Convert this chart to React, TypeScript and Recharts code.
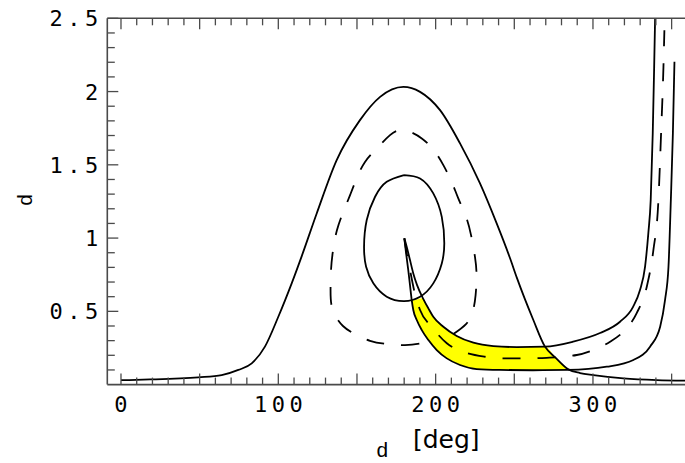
import React from "react";
import { ComposedChart, Line, Area, XAxis, YAxis } from "recharts";

// ---------- ticks ----------
const xTicks = [0, 10, 20, 30, 40, 50, 60, 70, 80, 90, 100, 110, 120, 130, 140, 150, 160, 170, 180, 190, 200, 210, 220, 230, 240, 250, 260, 270, 280, 290, 300, 310, 320, 330, 340, 350];
const xMajorTicks = [0, 50, 100, 150, 200, 250, 300, 350];
const xLabelTicks = [0, 100, 200, 300];
const xTickLabels = ["0", "100", "200", "300"];

const yTicks = [0.1, 0.2, 0.3, 0.4, 0.5, 0.6, 0.7, 0.8, 0.9, 1, 1.1, 1.2, 1.3, 1.4, 1.5, 1.6, 1.7, 1.8, 1.9, 2, 2.1, 2.2, 2.3, 2.4, 2.5];
const yMajorTicks = [0.5, 1, 1.5, 2, 2.5];
const yTickLabels = ["0.5", "1", "1.5", "2", "2.5"];

// ---------- series (x in deg, y) ----------
const outerBell: [number, number][] = [
  [0, 0.03], [18.4, 0.035], [49.1, 0.05], [64, 0.065], [74.6, 0.1], [83.1, 0.145], [91.5, 0.259],
  [100, 0.463], [108.5, 0.691], [114.9, 0.877], [124.4, 1.168], [137.1, 1.532], [151.9, 1.805],
  [164.7, 1.964], [179.5, 2.032], [190.1, 1.998], [202.8, 1.873], [215.5, 1.646], [228.2, 1.373],
  [238.8, 1.1], [247.3, 0.862], [251.6, 0.73], [262.1, 0.441], [269.5, 0.259], [276.5, 0.181],
  [284.4, 0.104], [291.8, 0.079], [300.3, 0.065], [319.3, 0.043], [340.6, 0.031], [358.5, 0.027],
];

const dashedLoop: [number, number][] = [
  [211.5, 0.347], [219.3, 0.413], [223.5, 0.495], [225.4, 0.611], [226.0, 0.748], [225.0, 0.872],
  [222.5, 1.02], [219.3, 1.145], [214.4, 1.271], [210.2, 1.384], [204.9, 1.498], [199.6, 1.589],
  [191.2, 1.68], [179.6, 1.737], [171.0, 1.703], [162.6, 1.612], [155.1, 1.52], [149.8, 1.407],
  [145.6, 1.293], [141.3, 1.179], [137.3, 1.055], [134.8, 0.918], [133.5, 0.782], [133.2, 0.645],
  [133.8, 0.543], [136.7, 0.461], [141.1, 0.4], [147.7, 0.35], [158.3, 0.299], [168.9, 0.277],
  [180.5, 0.27], [191.2, 0.282], [196.0, 0.297],
];

const innerLoop: [number, number][] = [
  [179.9, 1.43], [168.9, 1.384], [161.5, 1.282], [156.2, 1.123], [154.5, 0.941], [155.8, 0.804],
  [160.4, 0.691], [168.9, 0.6], [179.9, 0.57], [190.1, 0.6], [198.5, 0.691], [203.9, 0.827],
  [205.5, 0.964], [203.9, 1.145], [198.5, 1.305], [190.1, 1.407], [179.9, 1.43],
];

const bandUpper: [number, number][] = [
  [180.1, 0.998], [181.6, 0.941], [183.7, 0.85], [185.8, 0.759], [188.2, 0.679], [192.2, 0.584],
  [195.4, 0.52], [198.5, 0.463], [204.9, 0.395], [213.4, 0.332], [224.0, 0.286], [236.7, 0.263],
  [251.6, 0.256], [269.5, 0.259], [287.3, 0.293], [304.5, 0.352], [317.2, 0.429], [325.5, 0.531],
  [329.9, 0.645], [333.1, 0.804], [335.2, 1.034], [336.7, 1.259], [338.0, 1.716], [338.9, 2.168],
  [339.5, 2.5],
];

const bandMiddle: [number, number][] = [
  [180.1, 0.998], [181.8, 0.884], [183.7, 0.782], [186.3, 0.645], [190.1, 0.509], [197.5, 0.395],
  [207.1, 0.282], [217.6, 0.224], [231.4, 0.19], [243.0, 0.179], [257.9, 0.179], [270.6, 0.183],
  [289.7, 0.202], [300.1, 0.236], [310.9, 0.293], [319.3, 0.361], [327.8, 0.488], [334.2, 0.668],
  [338.4, 0.918], [341.6, 1.259], [343.3, 1.716], [344.8, 2.168], [345.4, 2.419],
];

const bandLower: [number, number][] = [
  [180.1, 0.998], [181.2, 0.898], [182.6, 0.782], [183.7, 0.679], [184.8, 0.577], [185.8, 0.509],
  [188.0, 0.441], [191.2, 0.372], [195.4, 0.304], [200.7, 0.236], [207.1, 0.179], [215.5, 0.134],
  [226.1, 0.106], [240.9, 0.1], [261.9, 0.098], [284.2, 0.1], [308.8, 0.122], [325.7, 0.168],
  [336.3, 0.259], [342.7, 0.395], [345.8, 0.577], [348.0, 0.804], [349.5, 1.259], [350.8, 1.716],
  [351.8, 2.203],
];

// yellow region: x, lower edge, upper edge
const fillX = [184.8, 185.8, 188.0, 191.2, 192.2, 195.4, 198.5, 200.7, 204.9, 207.1, 213.4, 215.5, 224.0, 226.1, 236.7, 240.9, 251.6, 261.9, 269.5, 276.5, 284.2, 285.2];
const fillLow = [0.577, 0.509, 0.441, 0.372, 0.35, 0.304, 0.264, 0.236, 0.199, 0.179, 0.145, 0.134, 0.112, 0.106, 0.102, 0.1, 0.099, 0.098, 0.099, 0.1, 0.1, 0.1];
const fillHigh = [0.578, 0.576, 0.58, 0.59, 0.584, 0.52, 0.463, 0.44, 0.395, 0.379, 0.332, 0.323, 0.286, 0.282, 0.263, 0.261, 0.256, 0.257, 0.259, 0.181, 0.105, 0.1];

const toPts = (arr: [number, number][]) => arr.map(([x, y]) => ({ x, y }));
const fillData = fillX.map((x, i) => ({ x, band: [fillLow[i], fillHigh[i]] }));

const X_DOMAIN: [number, number] = [-8.7, 358.5];
const Y_DOMAIN: [number, number] = [0, 2.5];
const AXIS_COLOR = "#4a4a4a";
const TICK_FONT = "'DejaVu Sans Mono', monospace";
const LS = 4.5;

const near = (list: number[], v: number) => list.findIndex((t) => Math.abs(t - v) < 1e-6);

function BottomTick(props: any) {
  const { x, y, payload } = props;
  const v = payload.value;
  const major = near(xMajorTicks, v) >= 0;
  const li = near(xLabelTicks, v);
  return (
    <g>
      <line x1={x} x2={x} y1={y} y2={y - (major ? 11 : 7)} stroke={AXIS_COLOR} strokeWidth={1.3} />
      {li >= 0 && (
        <text x={x + LS / 2} y={y + 27.7} textAnchor="middle" fontFamily={TICK_FONT} fontSize={22} letterSpacing={LS} fill="#000">
          {xTickLabels[li]}
        </text>
      )}
    </g>
  );
}

function TopTick(props: any) {
  const { x, y, payload } = props;
  const v = payload.value;
  const major = near(xMajorTicks, v) >= 0;
  return <line x1={x} x2={x} y1={y} y2={y + (major ? 11 : 7)} stroke={AXIS_COLOR} strokeWidth={1.3} />;
}

function LeftTick(props: any) {
  const { x, y, payload } = props;
  const v = payload.value;
  const li = near(yMajorTicks, v);
  const major = li >= 0;
  return (
    <g>
      <line x1={x} x2={x + (major ? 11 : 7.5)} y1={y} y2={y} stroke={AXIS_COLOR} strokeWidth={1.3} />
      {major && (
        <text x={x - 4.6} y={y + 8} textAnchor="end" fontFamily={TICK_FONT} fontSize={22} letterSpacing={LS} fill="#000">
          {yTickLabels[li]}
        </text>
      )}
    </g>
  );
}

export default function App() {
  const solid = { stroke: "#000", strokeWidth: 1.8, dot: false, isAnimationActive: false, activeDot: false } as const;
  return (
    <div style={{ position: "absolute", left: 0, top: 0, width: 685, height: 463, background: "#fff", overflow: "hidden" }}>
      <ComposedChart width={685} height={463} data={fillData} margin={{ top: 17.3, right: 0, bottom: 38.4, left: 7.3 }}>
        <XAxis
          xAxisId="top"
          orientation="top"
          type="number"
          dataKey="x"
          domain={X_DOMAIN}
          allowDataOverflow
          ticks={xTicks}
          interval={0}
          tick={<TopTick />}
          tickLine={false}
          tickSize={0}
          tickMargin={0}
          height={1}
          axisLine={{ stroke: AXIS_COLOR, strokeWidth: 1.6 }}
        />
        <XAxis
          type="number"
          dataKey="x"
          domain={X_DOMAIN}
          allowDataOverflow
          ticks={xTicks}
          interval={0}
          tick={<BottomTick />}
          tickLine={false}
          tickSize={0}
          tickMargin={0}
          height={40}
          axisLine={{ stroke: AXIS_COLOR, strokeWidth: 1.6 }}
        />
        <YAxis
          type="number"
          domain={Y_DOMAIN}
          allowDataOverflow
          ticks={yTicks}
          interval={0}
          tick={<LeftTick />}
          tickLine={false}
          tickSize={0}
          tickMargin={0}
          width={100}
          axisLine={{ stroke: AXIS_COLOR, strokeWidth: 1.6 }}
        />
        <Area dataKey="band" type="monotone" stroke="none" fill="#ffff00" fillOpacity={1} isAnimationActive={false} activeDot={false} />
        <Line data={toPts(outerBell)} dataKey="y" type="monotone" {...solid} />
        <Line data={toPts(dashedLoop)} dataKey="y" type="natural" {...solid} strokeDasharray="18 17" />
        <Line data={toPts(innerLoop)} dataKey="y" type="natural" {...solid} />
        <Line data={toPts(bandUpper)} dataKey="y" type="monotone" {...solid} />
        <Line data={toPts(bandMiddle)} dataKey="y" type="monotone" {...solid} strokeDasharray="18 17" />
        <Line data={toPts(bandLower)} dataKey="y" type="monotone" {...solid} />
      </ComposedChart>
      <div
        style={{
          position: "absolute",
          left: 26,
          top: 200,
          transform: "translate(-50%, -50%) rotate(-90deg)",
          fontFamily: "'Liberation Mono', monospace",
          fontSize: 21,
          lineHeight: 1,
          color: "#000",
        }}
      >
        d
      </div>
      <div
        style={{
          position: "absolute",
          left: 376,
          top: 441,
          fontFamily: "'Liberation Mono', monospace",
          fontSize: 21,
          lineHeight: "21px",
          color: "#000",
        }}
      >
        d
      </div>
      <div
        style={{
          position: "absolute",
          left: 413,
          top: 423,
          fontFamily: "'DejaVu Sans', sans-serif",
          fontSize: 25,
          lineHeight: "34px",
          color: "#000",
        }}
      >
        [deg]
      </div>
    </div>
  );
}
